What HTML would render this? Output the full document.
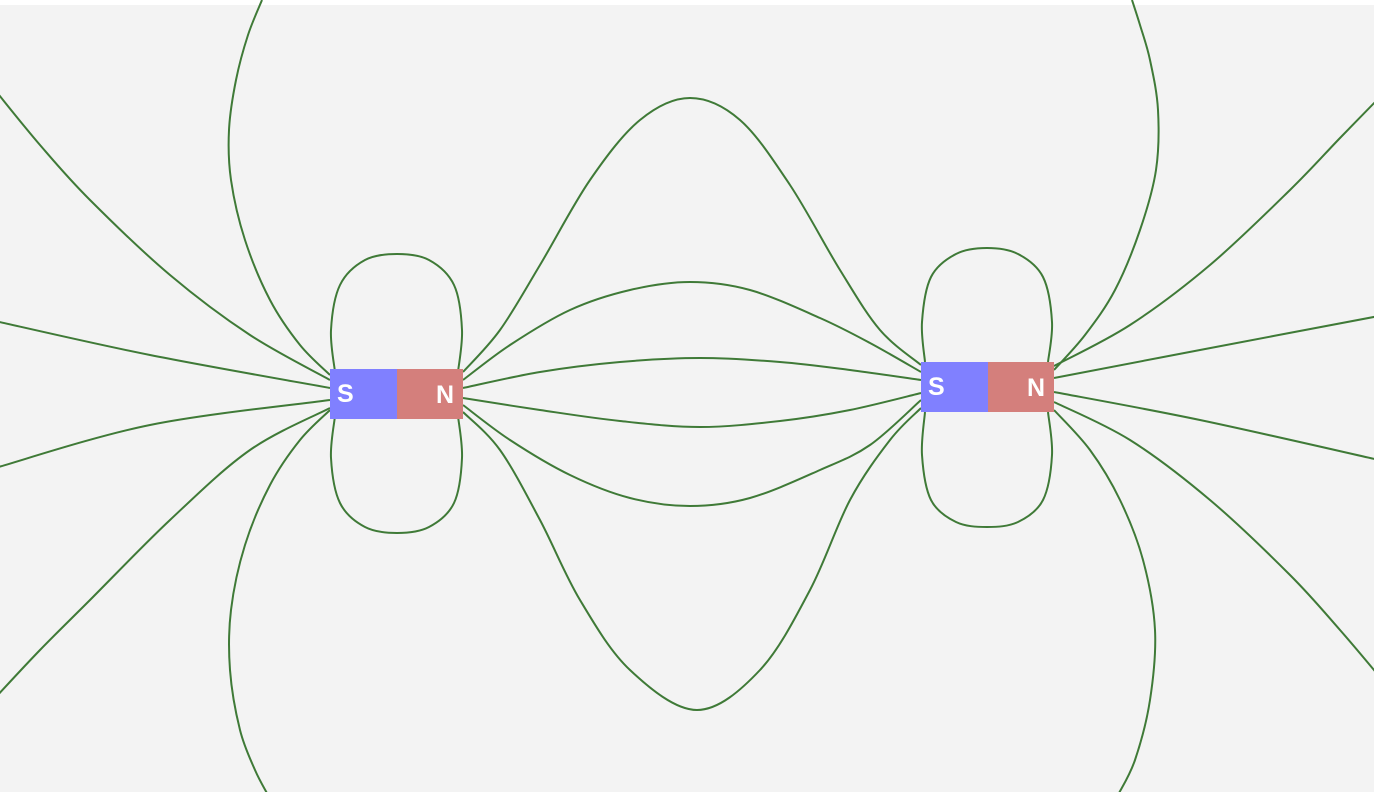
<!DOCTYPE html>
<html><head><meta charset="utf-8"><style>
html,body{margin:0;padding:0;background:#fff}
svg{display:block}
.mag text{font-family:"Liberation Sans",sans-serif;font-size:25px;font-weight:bold;fill:#fff}
</style></head><body>
<svg id="c" width="1374" height="792">
<rect x="0" y="5" width="1374" height="787" fill="#f3f3f3"/>
<g id="lines"></g>
<g class="mag">
<rect x="330" y="369" width="67" height="50" fill="#8080ff"/>
<rect x="397" y="369" width="66" height="50" fill="#d47f7c"/>
<text x="337" y="402">S</text>
<text x="436" y="403">N</text>
</g>
<g class="mag">
<rect x="921" y="362" width="67" height="50" fill="#8080ff"/>
<rect x="988" y="362" width="66" height="50" fill="#d47f7c"/>
<text x="928" y="395">S</text>
<text x="1027" y="396">N</text>
</g>
</svg>
<script>
const fieldLines = [
 [[335,372],[331,330],[340,285],[365,260],[397,254],[429,260],[454,285],[462,330],[458,372]],
 [[335,416],[331,458],[340,503],[365,527],[397,533],[429,527],[454,503],[462,458],[458,416]],
 [[330,375],[300,345],[270,300],[245,240],[231,180],[229,130],[236,80],[248,35],[262,0]],
 [[1054,370],[1085,335],[1115,290],[1140,230],[1156,170],[1158,110],[1150,60],[1140,25],[1132,0]],
 [[330,410],[300,440],[270,485],[245,545],[231,610],[230,670],[240,730],[255,770],[268,795]],
 [[1054,410],[1090,450],[1120,500],[1143,560],[1155,630],[1150,700],[1135,760],[1118,795]],
 [[330,380],[250,335],[170,275],[90,200],[40,145],[-5,90]],
 [[330,388],[150,355],[-5,321]],
 [[330,400],[150,425],[-5,468]],
 [[330,408],[250,450],[170,520],[90,600],[40,650],[-5,698]],
 [[463,372],[500,330],[540,265],[590,180],[640,120],[690,98],[740,120],[790,185],[840,270],[880,330],[921,365]],
 [[463,380],[510,345],[570,310],[630,290],[690,282],[750,290],[820,318],[870,343],[921,372]],
 [[463,388],[540,372],[620,362],[700,358],[780,362],[850,370],[921,380]],
 [[463,398],[540,410],[620,421],[700,427],[780,421],[850,410],[921,393]],
 [[463,405],[510,440],[570,475],[630,498],[690,506],[750,498],[820,470],[870,445],[921,400]],
 [[463,412],[500,450],[540,520],[580,600],[630,670],[697,710],[760,670],[810,590],[850,500],[890,440],[921,408]],
 [[925,362],[922,322],[931,277],[956,254],[987,248],[1018,254],[1043,277],[1052,322],[1048,362]],
 [[925,412],[922,455],[931,500],[956,522],[987,527],[1018,522],[1043,500],[1052,455],[1048,412]],
 [[1054,366],[1130,325],[1210,265],[1290,190],[1340,138],[1379,98]],
 [[1054,378],[1200,350],[1379,316]],
 [[1054,392],[1200,420],[1379,460]],
 [[1054,402],[1130,440],[1210,500],[1290,575],[1340,630],[1379,676]]
];
function pathD(p){
 let d='M'+p[0][0]+','+p[0][1];
 for(let i=0;i<p.length-1;i++){
  const p0=p[i-1]||p[i],p1=p[i],p2=p[i+1],p3=p[i+2]||p2;
  const c1=[p1[0]+(p2[0]-p0[0])/6,p1[1]+(p2[1]-p0[1])/6];
  const c2=[p2[0]-(p3[0]-p1[0])/6,p2[1]-(p3[1]-p1[1])/6];
  d+=' C'+c1+' '+c2+' '+p2;
 }
 return d;
}
const g=document.getElementById('lines');
fieldLines.forEach((p,i)=>{
 const el=document.createElementNS('http://www.w3.org/2000/svg','path');
 el.setAttribute('d',pathD(p));
 el.setAttribute('fill','none');
 el.setAttribute('stroke','#3f7a37');
 el.setAttribute('stroke-width','2');
 
 
 g.appendChild(el);
});
</script>
</body></html>
